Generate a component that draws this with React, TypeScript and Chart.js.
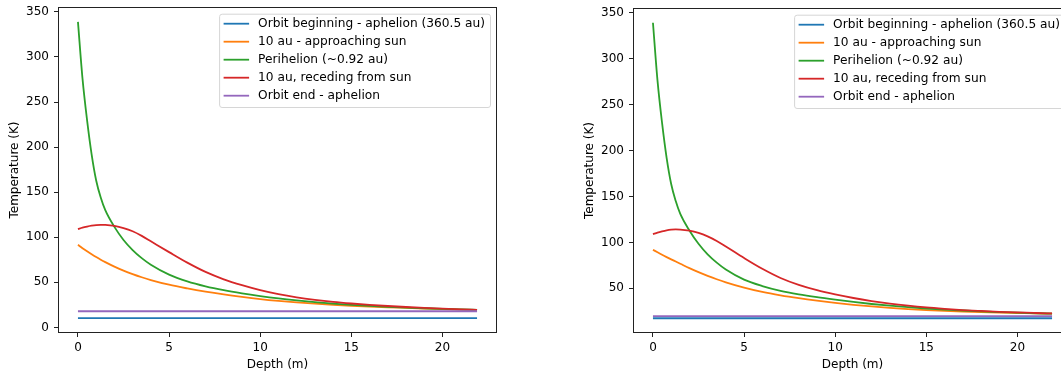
import React, { useEffect, useRef } from 'react';
import { Chart, registerables } from 'chart.js';

Chart.register(...registerables);
Chart.defaults.font.family = '"DejaVu Sans", sans-serif';
Chart.defaults.font.size = 12;
Chart.defaults.color = '#000';

// Depth samples (m)
const depths = [0, 0.25, 0.5, 0.75, 1, 1.25, 1.5, 2, 2.5, 3, 3.5, 4, 5, 6, 7, 8, 9, 10, 11, 12, 13, 14, 15, 16, 17, 18, 19, 20, 21, 21.9];

const seriesLabels = [
  'Orbit beginning - aphelion (360.5 au)',
  '10 au - approaching sun',
  'Perihelion (~0.92 au)',
  '10 au, receding from sun',
  'Orbit end - aphelion',
];
const seriesColors = ['#1f77b4', '#ff7f0e', '#2ca02c', '#d62728', '#9467bd'];

const xTicks = [0, 5, 10, 15, 20];
const yTicks = [0, 50, 100, 150, 200, 250, 300, 350];

// Left panel (K)
const leftBeginValue = 10.2;
const leftOrange = [91.6, 87.9, 84.4, 81.1, 78, 75.1, 72.4, 67.4, 63, 59.1, 55.6, 52.5, 47.3, 43.2, 39.6, 36.5, 33.8, 31.4, 29.4, 27.7, 26.3, 25.1, 24, 23.1, 22.3, 21.6, 20.9, 20.3, 19.7, 19.2];
const leftGreen = [339, 276, 230, 192, 163, 144, 130, 111.5, 97, 85.8, 76.8, 69.5, 58.5, 51, 45.5, 41.2, 37.7, 34.7, 32.1, 29.9, 28, 26.4, 25, 23.8, 22.8, 21.9, 21.2, 20.5, 19.9, 19.4];
const leftRed = [109, 110.6, 111.8, 112.8, 113.5, 113.8, 113.7, 112.6, 110.2, 106.6, 101.5, 95.5, 83.5, 71.8, 61.5, 53.3, 46.8, 41.3, 36.9, 33.4, 30.6, 28.3, 26.5, 25, 23.7, 22.6, 21.6, 20.8, 20, 19.4];
const leftEndValue = 17.9;

// Right panel (K)
const rightBeginValue = 17.5;
const rightOrange = [92, 89.2, 86.5, 84, 81.6, 79.2, 76.8, 72, 67.6, 63.6, 59.9, 56.6, 50.8, 46.1, 42.4, 39.3, 36.6, 34.2, 32.1, 30.3, 28.8, 27.5, 26.4, 25.5, 24.7, 24.1, 23.6, 23.2, 22.8, 22.5];
const rightGreen = [339, 276, 230, 192, 163.5, 145, 131, 113, 98.5, 87, 78, 70.5, 59.5, 52.5, 47.3, 43.5, 40.4, 37.7, 35.2, 33, 31.1, 29.5, 28.1, 26.9, 25.9, 25, 24.2, 23.5, 22.9, 22.5];
const rightRed = [109, 110.7, 112, 113.1, 113.8, 114.1, 114, 112.8, 110.3, 106.5, 101.5, 95.5, 83, 71.3, 61.3, 53.8, 48, 43.4, 39.5, 36.2, 33.4, 31.1, 29.2, 27.7, 26.4, 25.4, 24.5, 23.8, 23.2, 22.7];
const rightEndValue = 19.7;

type Panel = { left: number; top: number; series: number[][] };

const panels: Panel[] = [
  {
    left: 0,
    top: 7,
    series: [depths.map(() => leftBeginValue), leftOrange, leftGreen, leftRed, depths.map(() => leftEndValue)],
  },
  {
    left: 575,
    top: 8,
    series: [depths.map(() => rightBeginValue), rightOrange, rightGreen, rightRed, depths.map(() => rightEndValue)],
  },
];

const FONT = '12.2px "DejaVu Sans", sans-serif';

const framePlugin = {
  id: 'frameAndLegend',
  afterDraw(chart: any) {
    const { ctx, chartArea: a } = chart;
    ctx.save();
    // spines
    ctx.strokeStyle = '#222';
    ctx.lineWidth = 1;
    ctx.strokeRect(Math.round(a.left) + 0.5, Math.round(a.top) + 0.5, Math.round(a.right - a.left) - 1, Math.round(a.bottom - a.top) - 1);
    // legend
    ctx.font = FONT;
    const tw = Math.max(...seriesLabels.map((l) => ctx.measureText(l).width));
    const boxW = 39 + tw + 5;
    const boxRight = a.right - 7;
    const boxLeft = boxRight - boxW;
    const boxTop = a.top + 6.7;
    const boxH = 93.3;
    ctx.beginPath();
    ctx.roundRect(boxLeft + 0.5, boxTop + 0.5, boxW, boxH, 2.5);
    ctx.fillStyle = 'rgba(255,255,255,0.8)';
    ctx.fill();
    ctx.strokeStyle = '#d6d6d6';
    ctx.lineWidth = 1;
    ctx.stroke();
    seriesLabels.forEach((label, i) => {
      const y = boxTop + 10 + 18 * i;
      ctx.beginPath();
      ctx.moveTo(boxLeft + 4.5, y);
      ctx.lineTo(boxLeft + 30, y);
      ctx.strokeStyle = seriesColors[i];
      ctx.lineWidth = 1.8;
      ctx.stroke();
      ctx.fillStyle = '#000';
      ctx.textBaseline = 'middle';
      ctx.textAlign = 'left';
      ctx.fillText(label, boxLeft + 39, y + 0.5);
    });
    ctx.restore();
  },
};

function PanelChart({ panel }: { panel: Panel }) {
  const ref = useRef<HTMLCanvasElement>(null);
  useEffect(() => {
    const all = panel.series.flat();
    const dMin = Math.min(...all);
    const dMax = Math.max(...all);
    const yPad = (dMax - dMin) * 0.05;
    const xMinD = depths[0];
    const xMaxD = depths[depths.length - 1];
    const xPad = (xMaxD - xMinD) * 0.05;
    const yMin = dMin - yPad;
    const yMax = dMax + yPad;
    const chart = new Chart(ref.current as HTMLCanvasElement, {
      type: 'line',
      data: {
        datasets: panel.series.map((vals, i) => ({
          label: seriesLabels[i],
          data: depths.map((d, j) => ({ x: d, y: vals[j] })),
          borderColor: seriesColors[i],
          backgroundColor: seriesColors[i],
          borderWidth: 1.8,
          pointRadius: 0,
          fill: false,
          cubicInterpolationMode: 'monotone' as const,
          order: seriesLabels.length - i,
        })),
      },
      options: {
        animation: false,
        responsive: false,
        devicePixelRatio: 1,
        layout: { padding: { left: 0, right: 3, top: panel.top, bottom: 0 } },
        plugins: { legend: { display: false }, tooltip: { enabled: false } },
        scales: {
          x: {
            type: 'linear',
            min: xMinD - xPad,
            max: xMaxD + xPad,
            afterFit: (s: any) => { s.height = 38; s.paddingLeft = 0; s.paddingRight = 0; },
            afterBuildTicks: (s: any) => { s.ticks = xTicks.map((v) => ({ value: v })); },
            grid: { display: true, drawOnChartArea: false, drawTicks: true, tickLength: 4, color: '#222' },
            border: { display: false },
            ticks: { color: '#000', padding: 4, font: { size: 12 } },
            title: { display: true, text: 'Depth (m)', color: '#000', font: { size: 12 }, padding: { top: 0, bottom: -1.5 } },
          },
          y: {
            type: 'linear',
            min: yMin,
            max: yMax,
            afterFit: (s: any) => { s.width = 58; s.paddingTop = 0; s.paddingBottom = 0; },
            afterBuildTicks: (s: any) => { s.ticks = yTicks.filter((v) => v >= yMin && v <= yMax).map((v) => ({ value: v })); },
            grid: { display: true, drawOnChartArea: false, drawTicks: true, tickLength: 4, color: '#222' },
            border: { display: false },
            ticks: { color: '#000', padding: 5, font: { size: 12 } },
            title: { display: true, text: 'Temperature (K)', color: '#000', font: { size: 12 }, padding: { top: 8, bottom: 0 } },
          },
        },
      },
      plugins: [framePlugin],
    } as any);
    return () => chart.destroy();
  }, [panel]);
  return (
    <canvas
      ref={ref}
      width={500}
      height={371}
      style={{ position: 'absolute', left: panel.left, top: 0, width: 500, height: 371 }}
    />
  );
}

export default function App() {
  return (
    <div style={{ position: 'absolute', left: 0, top: 0, width: 1061, height: 371, overflow: 'hidden', background: '#fff' }}>
      {panels.map((p, i) => (
        <PanelChart key={i} panel={p} />
      ))}
    </div>
  );
}
